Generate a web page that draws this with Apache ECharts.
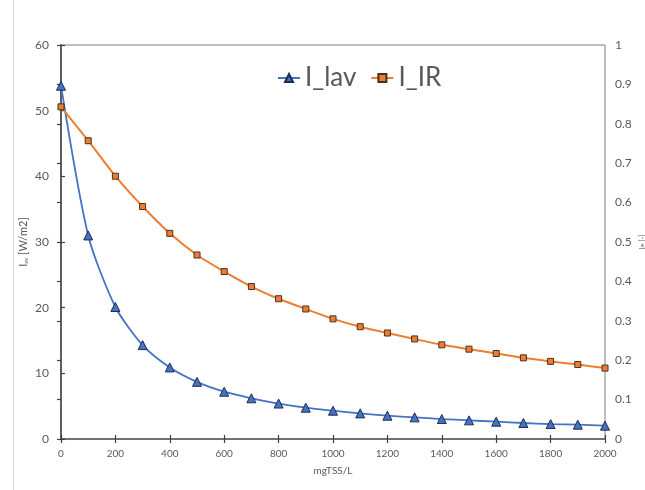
<!DOCTYPE html>
<html><head><meta charset="utf-8">
<script src="https://cdn.jsdelivr.net/npm/echarts@6/dist/echarts.min.js"></script>
<style>html,body{margin:0;padding:0;background:#fff}#c{width:645px;height:490px}</style>
</head><body><div id="c"></div>
<script>
const xValues = [0,100,200,300,400,500,600,700,800,900,1000,1100,1200,1300,1400,1500,1600,1700,1800,1900,2000];
const iLav = [53.8,31.0,20.1,14.3,10.9,8.7,7.2,6.2,5.4,4.77,4.31,3.9,3.55,3.3,3.04,2.84,2.64,2.44,2.28,2.18,2.03];
const iIR = [0.843,0.757,0.667,0.590,0.522,0.467,0.425,0.387,0.356,0.330,0.305,0.285,0.269,0.254,0.239,0.228,0.217,0.206,0.197,0.189,0.180];
const leftTicks = {min:0,max:60,interval:10};
const rightTicks = {min:0,max:1,interval:0.1};
const xTicks = {min:0,max:2000,interval:200};

const font = 'Lato';
const txt = '#595959';
const axisCol = '#595959';
const chart = echarts.init(document.getElementById('c'), null, {renderer:'canvas'});
chart.setOption({
  animation:false,
  textStyle:{fontFamily:font},
  grid:{left:61,right:40,top:45,bottom:51,show:true,borderColor:'#7f7f7f',borderWidth:1,containLabel:false,outerBoundsMode:'none'},
  legend:{
    top:60,left:272,itemGap:14,itemWidth:22,itemHeight:10,
    textStyle:{fontSize:26,color:txt,fontFamily:font},
    data:['I_lav','I_IR']
  },
  xAxis:[{
    type:'value',min:xTicks.min,max:xTicks.max,interval:xTicks.interval,position:'bottom',
    name:'mgTSS/L',nameLocation:'middle',nameGap:27,nameMoveOverlap:false,
    nameTextStyle:{fontSize:10,color:txt},
    axisLine:{onZero:false,lineStyle:{color:axisCol,width:1.5}},
    axisTick:{length:4,lineStyle:{color:'#404040',width:1.2}},
    axisLabel:{fontSize:10,color:txt,margin:10,formatter:v=>String(v)},
    splitLine:{show:false}
  },{
    type:'value',min:xTicks.min,max:xTicks.max,interval:xTicks.interval,position:'bottom',
    axisLine:{show:false,onZero:false},
    axisTick:{inside:true,length:4,lineStyle:{color:'#404040',width:1.2}},
    axisLabel:{show:false},splitLine:{show:false}
  }],
  yAxis:[{
    type:'value',min:leftTicks.min,max:leftTicks.max,interval:leftTicks.interval,position:'left',
    name:'{m|I}{s|av}{m| [W/m2]}',nameLocation:'middle',nameGap:32,nameRotate:90,nameMoveOverlap:false,
    nameTextStyle:{color:txt,rich:{m:{fontSize:11,color:txt,fontFamily:font},s:{fontSize:6,color:txt,fontFamily:font,verticalAlign:'bottom',padding:[6,0,0,0]}}},
    axisLine:{show:true,lineStyle:{color:axisCol,width:1.5}},
    axisTick:{show:true,inside:true,length:4,lineStyle:{color:'#404040',width:1.2}},
    axisLabel:{fontSize:12,color:txt,margin:12},
    splitLine:{show:false}
  },{
    type:'value',min:rightTicks.min,max:rightTicks.max,interval:rightTicks.interval,position:'right',
    name:'{m|I}{s|IR}{m| [-]}',nameLocation:'middle',nameGap:34,nameRotate:90,nameMoveOverlap:false,
    nameTextStyle:{color:txt,rich:{m:{fontSize:7,color:txt,fontFamily:font},s:{fontSize:4,color:txt,fontFamily:font}}},
    axisLine:{show:true,lineStyle:{color:axisCol,width:1.5}},
    axisTick:{show:true,inside:true,length:4,lineStyle:{color:'#404040',width:1.2}},
    axisLabel:{fontSize:12,color:txt,margin:10},
    splitLine:{show:false}
  }],
  series:[{
    name:'I_lav',type:'line',xAxisIndex:0,yAxisIndex:0,
    data:xValues.map((x,i)=>[x,iLav[i]]),
    smooth:0.25,symbol:'triangle',symbolSize:9,
    lineStyle:{color:'#4472C4',width:1.8},
    itemStyle:{color:'#4472C4',borderColor:'#1f2d4d',borderWidth:1}
  },{
    name:'I_IR',type:'line',xAxisIndex:0,yAxisIndex:1,
    data:xValues.map((x,i)=>[x,iIR[i]]),
    smooth:0.25,symbol:'rect',symbolSize:6,
    lineStyle:{color:'#ED7D31',width:2},
    itemStyle:{color:'#ED7D31',borderColor:'#4a3020',borderWidth:1}
  }],
  graphic:[{type:'line',shape:{x1:13.5,y1:0,x2:13.5,y2:490},style:{stroke:'#d9d9d9',lineWidth:1},silent:true}]
});
</script></body></html>
